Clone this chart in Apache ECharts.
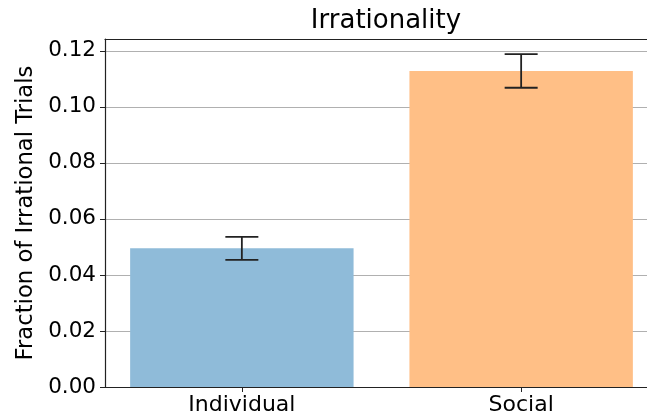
<!DOCTYPE html>
<html>
<head>
<meta charset="utf-8">
<script src="https://cdn.jsdelivr.net/npm/echarts@6/dist/echarts.min.js"></script>
<style>
html,body{margin:0;padding:0;background:#fff;}
#chart{width:647px;height:419px;}
</style>
</head>
<body>
<div id="chart"></div>
<script>
const categories = ['Individual', 'Social'];
const means = [0.0495, 0.1128];
const errors = [0.0041, 0.0060];
const yTicks = [0, 0.02, 0.04, 0.06, 0.08, 0.10, 0.12];
const colors = ['#8fbbd9', '#ffbf86'];

const FONT = 'DejaVu Sans';
const chart = echarts.init(document.getElementById('chart'));

const barData = means.map((v, i) => [i, v]);
const errData = means.map((v, i) => [i, v - errors[i], v + errors[i]]);

chart.setOption({
  animation: false,
  backgroundColor: '#fff',
  title: {
    text: 'Irrationality',
    left: 381, textAlign: 'center', top: 3,
    textStyle: { fontFamily: FONT, fontSize: 26, fontWeight: 'normal', color: '#000' }
  },
  grid: {
    left: 105, right: 0, top: 39, bottom: 32, show: false
  },
  xAxis: [{
    type: 'value', min: -0.49, max: 1.4506,
    axisLine: { show: true, onZero: false, lineStyle: { color: '#222', width: 1.2 } },
    axisTick: { show: true, customValues: [0, 1], length: 5, lineStyle: { color: '#222' } },
    axisLabel: {
      customValues: [0, 1],
      formatter: v => categories[Math.round(v)],
      fontFamily: FONT, fontSize: 22, color: '#000', margin: 7
    },
    splitLine: { show: false }
  }, {
    type: 'value', position: 'top', min: -0.49, max: 1.4506,
    axisLine: { show: true, onZero: false, lineStyle: { color: '#222', width: 1.2 } },
    axisTick: { show: false }, axisLabel: { show: false }, splitLine: { show: false }
  }],
  yAxis: {
    type: 'value', min: 0, max: 0.1242,
    name: 'Fraction of Irrational Trials',
    nameLocation: 'middle', nameGap: 67,
    nameTextStyle: { fontFamily: FONT, fontSize: 22.7, color: '#000' },
    axisLine: { show: true, onZero: false, lineStyle: { color: '#222', width: 1.2 } },
    axisTick: { show: true, customValues: yTicks, length: 5, lineStyle: { color: '#222' } },
    axisLabel: {
      customValues: yTicks,
      formatter: v => v.toFixed(2),
      fontFamily: FONT, fontSize: 21.5, color: '#000', margin: 9
    },
    splitLine: { show: true, lineStyle: { color: '#b0b0b0', width: 1 } }
  },
  series: [
    {
      type: 'custom',
      data: barData,
      z: 2,
      renderItem: (params, api) => {
        const x = api.value(0), y = api.value(1);
        const p0 = api.coord([x - 0.4, 0]);
        const p1 = api.coord([x + 0.4, y]);
        return {
          type: 'rect',
          shape: { x: p0[0], y: p1[1], width: p1[0] - p0[0], height: p0[1] - p1[1] },
          style: { fill: colors[params.dataIndex] }
        };
      }
    },
    {
      type: 'custom',
      data: errData,
      z: 3,
      renderItem: (params, api) => {
        const x = api.value(0);
        const lo = api.coord([x, api.value(1)]);
        const hi = api.coord([x, api.value(2)]);
        const half = 16.5;
        const st = { stroke: '#222', lineWidth: 1.8 };
        return {
          type: 'group',
          children: [
            { type: 'line', shape: { x1: lo[0], y1: lo[1], x2: hi[0], y2: hi[1] }, style: st },
            { type: 'line', shape: { x1: lo[0] - half, y1: lo[1], x2: lo[0] + half, y2: lo[1] }, style: st },
            { type: 'line', shape: { x1: hi[0] - half, y1: hi[1], x2: hi[0] + half, y2: hi[1] }, style: st }
          ]
        };
      }
    }
  ]
});
</script>
</body>
</html>
